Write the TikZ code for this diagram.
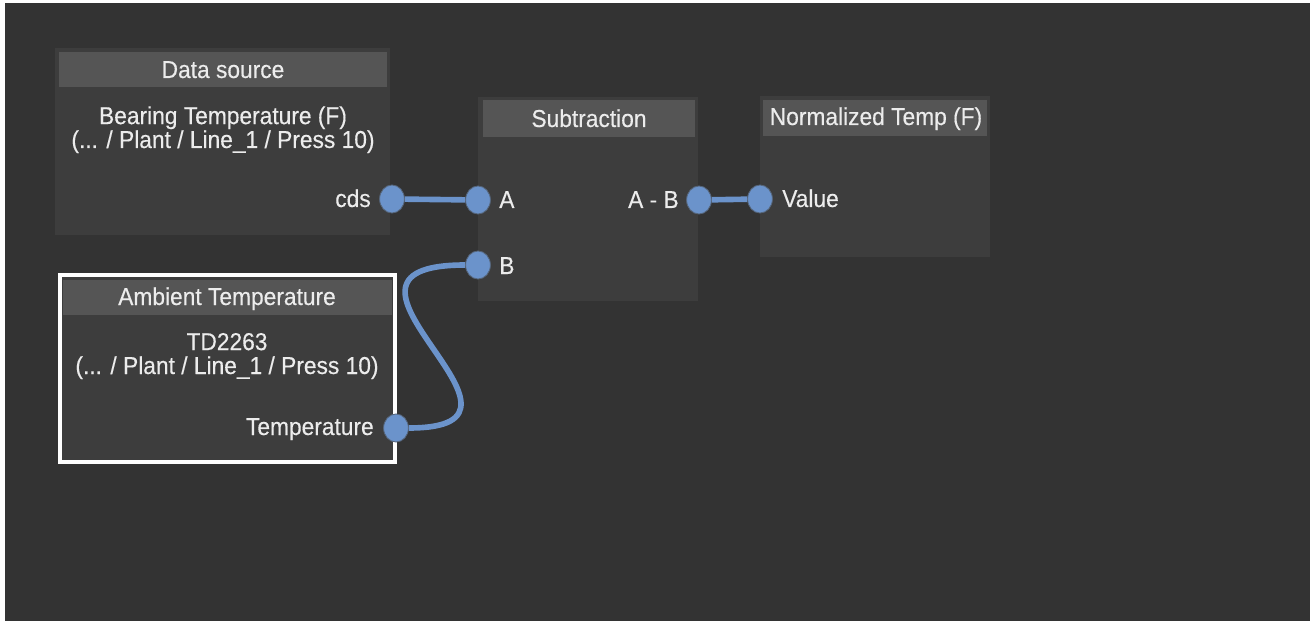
\documentclass[tikz,border=0pt]{standalone}
\usepackage{fontspec}
\setmainfont{Liberation Sans}[FakeStretch=0.93,FakeBold=0.3]
\usetikzlibrary{shapes.geometric}
\definecolor{canvas}{HTML}{333333}
\definecolor{panel}{HTML}{3D3D3D}
\definecolor{header}{HTML}{555555}
\definecolor{label}{HTML}{ECECEC}
\definecolor{pin}{HTML}{6B93CB}
\definecolor{pinrim}{HTML}{56667C}
\tikzset{
  txt/.style={text=label,font=\fontsize{17.4}{17}\selectfont,inner sep=0pt,anchor=base},
  body/.style={txt,align=center},
  port/.style={ellipse,fill=pin,draw=pinrim,line width=0.6pt,minimum width=0.62cm,minimum height=0.7cm,inner sep=0pt},
  wire/.style={draw=pin,line width=4pt}
}

\begin{document}
\begin{tikzpicture}[x=0.025cm,y=-0.025cm]
      \fill[white] (0,0) rectangle (1310,623);
      \fill[canvas] (5,3) rectangle (1310,621);

      % data source
      \fill[panel] (55,48) rectangle (390,235);
      \fill[header] (59,52) rectangle (387,87);
      \node[txt] (dsTitle) at (223,78) {Data source};
      \node[body] (dsBody) at (223,148) {Bearing Temperature (F)\\(... / Plant / Line\_1 / Press 10)};
      \node[txt,anchor=base east] (cdsLbl) at (371,207) {cds};

      % subtraction
      \fill[panel] (478,97) rectangle (698,301);
      \fill[header] (483,100) rectangle (695,137);
      \node[txt] (subTitle) at (589,127) {Subtraction};
      \node[txt,anchor=base west] (aLbl) at (499,208) {A};
      \node[txt,anchor=base west] (bLbl) at (499,274) {B};
      \node[txt,anchor=base east] (diffLbl) at (679,208) {A - B};

      % normalized temp
      \fill[panel] (760,96) rectangle (990,257);
      \fill[header] (763,100) rectangle (987,136);
      \node[txt] (normTitle) at (876,125) {Normalized Temp (F)};
      \node[txt,anchor=base west] (valLbl) at (782,207) {Value};

      % ambient temperature
      \fill[panel] (60,275) rectangle (395,462);
      \fill[header] (63,280) rectangle (392,315);
      \draw[white,line width=2.2pt] (60,275) rectangle (395,462);
      \node[txt] (ambTitle) at (227,305) {Ambient Temperature};
      \node[body] (ambBody) at (227,374) {TD2263\\(... / Plant / Line\_1 / Press 10)};
      \node[txt,anchor=base east] (tempLbl) at (374,435) {Temperature};

      % ports
      \node[port] (cds) at (392,199) {};
      \node[port] (inA) at (478,200) {};
      \node[port] (inB) at (478,265) {};
      \node[port] (diff) at (699,200) {};
      \node[port] (val) at (760,199) {};
      \node[port] (temp) at (396,428) {};

      \draw[wire] (cds) -- (inA);
      \draw[wire] (diff) -- (val);
      \draw[wire] (temp.east) .. controls (570,428) and (290,265) .. (inB.west);
\end{tikzpicture}
\end{document}
